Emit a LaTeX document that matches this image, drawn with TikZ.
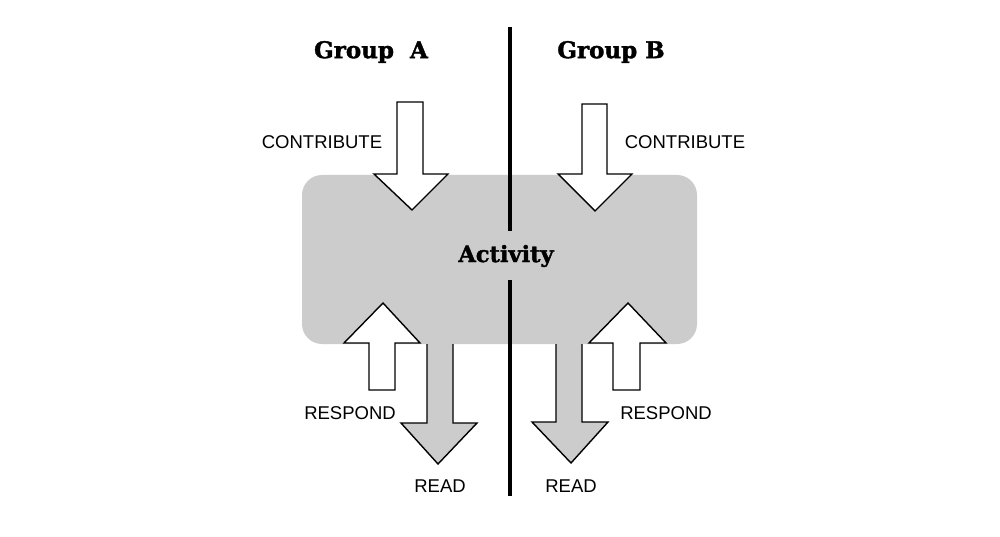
\documentclass[tikz,border=0pt]{standalone}
\usepackage{fontspec}
\setmainfont{Liberation Sans}
\newfontfamily\slabfont{DejaVu Serif}[BoldFeatures={FakeBold=1.6}]
\definecolor{boxgray}{HTML}{CCCCCC}
\begin{document}
\begin{tikzpicture}[x=1pt,y=-1pt,
  arrowline/.style={draw=black,line width=1.4pt,line join=miter},
  title/.style={font=\slabfont\bfseries\fontsize{23}{26}\selectfont,inner sep=0},
  lbl/.style={font=\fontsize{18.5}{20}\selectfont,inner sep=0}]
\useasboundingbox[fill=white] (0,0) rectangle (1000,537);
% activity box
\fill[boxgray,rounded corners=20pt] (302,175) rectangle (697,344);
\node[title,font=\slabfont\bfseries\fontsize{22.5}{25}\selectfont] (act) at (506,256) {Activity};
% contribute arrows (down, white)
\filldraw[arrowline,fill=white] (397,102) -- (423,102) -- (423,174) -- (448,174) -- (412,210) -- (374,174) -- (397,174) -- cycle;
\filldraw[arrowline,fill=white] (582,104) -- (607,104) -- (607,174) -- (632,174) -- (595,211) -- (558,174) -- (582,174) -- cycle;
% respond arrows (up, white)
\filldraw[arrowline,fill=white] (369,390) -- (395,390) -- (395,343) -- (420,343) -- (383,303) -- (344,343) -- (369,343) -- cycle;
\filldraw[arrowline,fill=white] (613,390) -- (640,390) -- (640,343) -- (666,343) -- (628,303) -- (589,343) -- (613,343) -- cycle;
% read arrows (down, gray)
\fill[boxgray] (427,343) -- (453,343) -- (453,423) -- (477,423) -- (438,464) -- (401,423) -- (427,423) -- cycle;
\draw[arrowline] (453,344) -- (453,423) -- (477,423) -- (438,464) -- (401,423) -- (427,423) -- (427,344);
\fill[boxgray] (556,343) -- (582,343) -- (582,422) -- (608,422) -- (571,463) -- (532,422) -- (556,422) -- cycle;
\draw[arrowline] (582,344) -- (582,422) -- (608,422) -- (571,463) -- (532,422) -- (556,422) -- (556,344);
% divider
\coordinate (d1) at (510,27);
\coordinate (d2) at (510,231);
\coordinate (d3) at (510,280);
\coordinate (d4) at (510,496);
\draw[line width=4.5pt] (d1) -- (d2);
\draw[line width=4.5pt] (d3) -- (d4);
% titles
\node[title] (ga) at (371,52) {Group\ \ A};
\node[title] (gb) at (611,52) {Group B};
% labels
\node[lbl] (c1) at (322,142) {CONTRIBUTE};
\node[lbl] (c2) at (685,142) {CONTRIBUTE};
\node[lbl] (r1) at (350,413) {RESPOND};
\node[lbl] (r2) at (666,413) {RESPOND};
\node[lbl] (rd1) at (440,486) {READ};
\node[lbl] (rd2) at (571,486) {READ};
\end{tikzpicture}
\end{document}
